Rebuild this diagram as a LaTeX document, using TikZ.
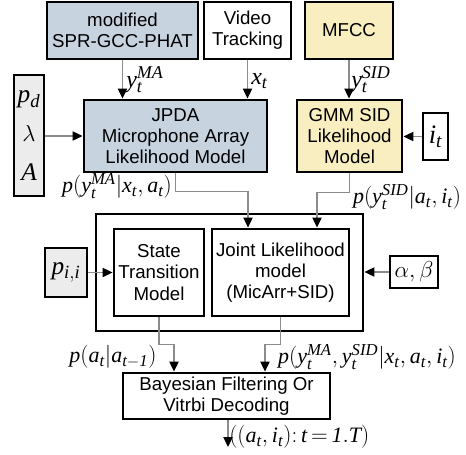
\documentclass[tikz,border=0pt]{standalone}
\usepackage{fontspec}
\setmainfont{Liberation Sans}
\setmathrm{Liberation Serif}
\usetikzlibrary{arrows.meta,calc}
\definecolor{bluegrey}{RGB}{200,211,224}
\definecolor{lightyel}{RGB}{249,238,192}
\definecolor{lightgr}{RGB}{236,236,236}
\DeclareMathSizes{16.5}{16.5}{12.5}{10}
\DeclareMathSizes{18}{18}{13.5}{10}
\DeclareMathSizes{19}{19}{14}{10}
\DeclareMathSizes{20}{20}{14.5}{10}
\newcommand{\mi}[1]{\mathit{#1}}
\begin{document}
\begin{tikzpicture}[x=0.75pt,y=-0.75pt,
  box/.style={draw=black, line width=2.2pt, align=center, inner sep=0pt,
    font=\fontsize{14}{16}\selectfont},
  conn/.style={draw=black!45, line width=0.8pt,
    -{Triangle[length=7.5pt,width=7pt,color=black,fill=black]}},
  lbl/.style={font=\fontsize{16.5}{18}\selectfont, inner sep=0pt},
  slbl/.style={font=\fontsize{18}{20}\selectfont, inner sep=0pt},
  par/.style={font=\fontsize{19}{29}\selectfont}]
\useasboundingbox (0,0) rectangle (466,454);
% top row
\node[box, fill=bluegrey, minimum width=113.25pt, minimum height=42.75pt] (spr) at (122.5,30.5) {modified\\SPR-GCC-PHAT};
\node[box, fill=white, minimum width=65.25pt, minimum height=42.75pt] (video) at (247.5,30.5) {Video\\Tracking};
\node[box, fill=lightyel, minimum width=66pt, minimum height=42.75pt] (mfcc) at (349,30.5) {MFCC};
% second row
\node[box, fill=bluegrey, minimum width=137.25pt, minimum height=54pt] (jpda) at (175.5,136) {JPDA\\Microphone Array\\Likelihood Model};
\node[box, fill=lightyel, minimum width=78.75pt, minimum height=54pt] (gmm) at (349.5,136) {GMM SID\\Likelihood\\Model};
\node[box, par, fill=lightgr, minimum width=22.5pt, minimum height=90.75pt] (params) at (29,135.5) {$\mi{p_d}$\\$\lambda$\\$\mi{A}$};
\node[box, fill=white, minimum width=18.75pt, minimum height=35.25pt, font=\fontsize{20}{20}\selectfont] (it) at (435.5,136.5) {$\mi{i_t}$};
% middle
\node[box, minimum width=200.25pt, minimum height=87.75pt] (outer) at (229.5,272.5) {};
\node[box, fill=white, minimum width=67.5pt, minimum height=65.25pt] (stm) at (159,272.5) {State\\Transition\\Model};
\node[box, fill=white, minimum width=102.75pt, minimum height=65.25pt] (joint) at (280.5,272.5) {Joint Likelihood\\model\\(MicArr+SID)};
\node[box, fill=lightgr, minimum width=31.5pt, minimum height=36.75pt, font=\fontsize{19}{20}\selectfont] (pii) at (66,272.5) {$\mi{p_{i,i}}$};
\node[box, fill=white, minimum width=36pt, minimum height=24pt, font=\fontsize{18}{20}\selectfont] (ab) at (414,272) {$\alpha,\beta$};
% bottom
\node[box, fill=white, minimum width=155.25pt, minimum height=34.5pt] (bayes) at (226.5,396) {Bayesian Filtering Or\\Vitrbi Decoding};
\coordinate (out) at (228,447);
% connectors
\draw[conn] (spr.south) -- (jpda.north -| spr.south);
\draw[conn] (video.south) -- (jpda.north -| video.south);
\draw[conn] (mfcc.south) -- (gmm.north -| mfcc.south);
\draw[conn] (params.east |- jpda.west) -- (jpda.west);
\draw[conn] (it.west) -- (gmm.east |- it.west);
\draw[conn] (jpda.south) -- ++(0,18) -| ($(joint.north)+(-32.5,0)$);
\draw[conn] (gmm.south) -- ++(0,19) -| ($(joint.north)+(36.5,0)$);
\draw[conn] (pii.east) -- (stm.west |- pii.east);
\draw[conn] (ab.west) -- (outer.east |- ab.west);
\draw[conn] (stm.south) -- ++(0,27) -| ($(bayes.north)+(-52.5,0)$);
\draw[conn] (joint.south) -- ++(0,27) -| ($(bayes.north)+(38.5,0)$);
\draw[conn] (bayes.south -| out) -- (out);
% labels
\node[slbl, anchor=west] (lyma) at (126,80) {$\mi{y_t^{MA}}$};
\node[slbl, anchor=west] (lxt) at (251,81) {$\mi{x_t}$};
\node[slbl, anchor=west] (lysid) at (351,80) {$\mi{y_t^{SID}}$};
\node[lbl] (lpma) at (117,186) {$\mi{p(y_t^{MA}|x_t,a_t)}$};
\node[lbl] (lpsid) at (407,197) {$\mi{p(y_t^{SID}|a_t,i_t)}$};
\node[lbl] (lpa) at (113,357) {$\mi{p(a_t|a_{t-1})}$};
\node[lbl] (lpj) at (367,357) {$\mi{p(y_t^{MA},y_t^{SID}|x_t,a_t,i_t)}$};
\node[lbl, anchor=west] (lout) at (229,437) {$\mi{\bigl((a_t,i_t){:}\,t\,{=}\,1.T\bigr)}$};
\end{tikzpicture}
\end{document}
